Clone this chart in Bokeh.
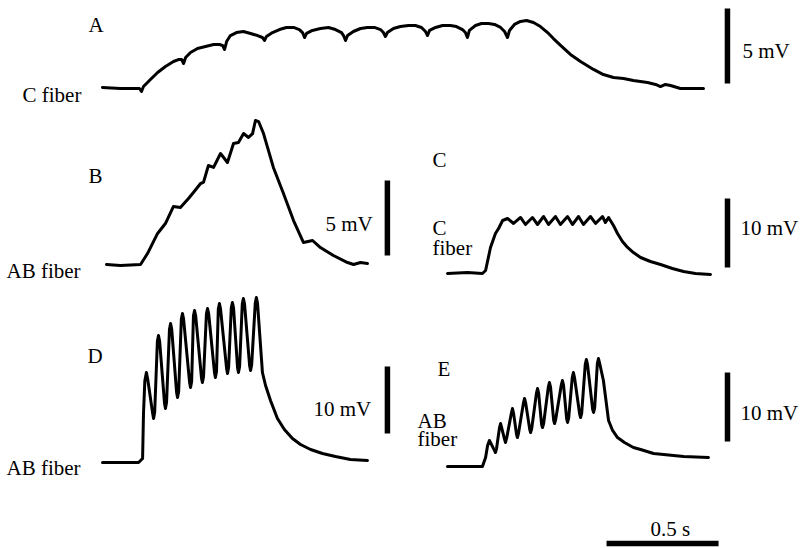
from bokeh.plotting import figure
from bokeh.models import Range1d
from bokeh.core.properties import value
from bokeh.embed import file_html
from bokeh.resources import INLINE

# ---------------- data (time in ms from trace start, membrane potential in mV above baseline) ----
a_t = [0, 80, 165, 174, 183, 214, 246, 281, 317, 339, 353, 362, 371, 393, 424, 460, 496, 522, 536,
       545, 554, 571, 598, 629, 661, 692, 714, 723, 732, 759, 790, 821, 853, 879, 893, 902, 911,
       937, 973, 1009, 1040, 1067, 1076, 1085, 1094, 1120, 1152, 1183, 1214, 1241, 1254, 1263,
       1272, 1299, 1330, 1366, 1397, 1424, 1442, 1451, 1460, 1487, 1518, 1553, 1580, 1607, 1620,
       1629, 1638, 1665, 1692, 1723, 1750, 1777, 1795, 1808, 1817, 1839, 1866, 1893, 1924, 1955,
       1987, 2013, 2045, 2089, 2134, 2192, 2236, 2281, 2326, 2370, 2433, 2469, 2491, 2513, 2536,
       2580, 2625, 2683]
a_v = [0.07, 0, 0, -0.2, 0.13, 0.6, 1.07, 1.47, 1.8, 1.93, 1.93, 1.67, 2.07, 2.4, 2.67, 2.8, 2.93,
       2.93, 2.87, 2.6, 3.13, 3.53, 3.73, 3.8, 3.67, 3.53, 3.4, 3.2, 3.47, 3.73, 3.93, 4.07, 4.07,
       3.93, 3.73, 3.4, 3.67, 3.87, 4.0, 4.07, 3.93, 3.73, 3.53, 3.2, 3.53, 3.8, 4.0, 4.07, 4.07,
       3.93, 3.73, 3.47, 3.73, 4.0, 4.13, 4.2, 4.2, 4.07, 3.8, 3.53, 3.87, 4.07, 4.2, 4.2, 4.13,
       3.93, 3.73, 3.4, 3.87, 4.2, 4.33, 4.33, 4.27, 4.07, 3.8, 3.4, 3.87, 4.27, 4.47, 4.53, 4.4,
       4.13, 3.73, 3.33, 2.87, 2.27, 1.8, 1.27, 0.93, 0.73, 0.67, 0.53, 0.4, 0.27, 0.13, 0.27, 0.2,
       0, 0, 0]

b_t = [0, 62, 152, 183, 228, 263, 299, 330, 366, 388, 420, 433, 455, 478, 509, 540, 567, 589, 612,
       634, 652, 665, 679, 701, 745, 790, 835, 879, 920, 955, 1013, 1076, 1103, 1134, 1165]
b_v = [0, -0.07, 0, 0.73, 2.07, 2.73, 3.87, 3.8, 4.4, 4.8, 5.4, 5.47, 6.6, 6.47, 7.4, 6.8, 8.07,
       8.13, 8.73, 8.47, 8.73, 9.6, 9.53, 8.73, 6.47, 4.73, 2.93, 1.47, 1.6, 1.13, 0.6, 0.13, 0,
       0.13, 0.07]

c_t = [0, 89, 156, 170, 192, 214, 228, 246, 268, 295, 326, 348, 379, 402, 429, 451, 482, 504, 536,
       558, 585, 607, 638, 661, 692, 705, 719, 741, 759, 781, 804, 830, 862, 906, 951, 1004, 1054,
       1107, 1174]
c_v = [0, 0.14, 0, 0.43, 3.77, 5.8, 6.52, 7.68, 7.97, 7.25, 8.12, 7.1, 8.12, 7.1, 8.26, 7.1, 8.26,
       7.1, 8.26, 7.1, 8.26, 7.1, 8.26, 7.25, 8.26, 7.39, 8.12, 6.96, 5.8, 4.64, 3.77, 3.04, 2.32,
       1.74, 1.3, 0.72, 0.29, 0, -0.14]

d_t = [0, 161, 179, 183, 189, 196, 202, 224, 228, 233, 245, 250, 255, 277, 281, 286, 299, 304, 309,
       331, 335, 340, 352, 357, 362, 389, 393, 398, 406, 411, 416, 442, 446, 451, 464, 469, 474,
       500, 504, 509, 517, 522, 527, 554, 558, 563, 575, 580, 585, 603, 607, 612, 624, 629, 634,
       657, 661, 666, 682, 687, 692, 714, 728, 750, 781, 812, 848, 884, 929, 982, 1040, 1107, 1183]
d_v = [0, 0, 0.6, 7.31, 12.2, 13.43, 12.4, 7.3, 6.57, 7.5, 18.1, 18.96, 18.1, 8.8, 8.06, 9.0, 19.9,
       20.75, 19.9, 10.4, 9.7, 10.6, 21.4, 22.24, 21.4, 11.9, 11.19, 12.1, 21.9, 22.69, 21.9, 12.6,
       11.94, 12.8, 22.2, 22.99, 22.2, 13.4, 12.69, 13.6, 22.9, 23.73, 22.9, 14.0, 13.28, 14.2, 23.1,
       23.88, 23.1, 14.1, 13.43, 14.3, 23.7, 24.48, 23.7, 14.4, 13.73, 14.6, 23.8, 24.63, 23.8,
       13.43, 11.49, 9.25, 6.57, 4.93, 3.58, 2.69, 1.94, 1.34, 0.9, 0.45, 0.3]

e_t = [0, 156, 170, 179, 187, 193, 210, 214, 219, 232, 237, 242, 255, 259, 264, 285, 290, 295, 308,
       312, 317, 339, 344, 349, 367, 371, 376, 397, 402, 407, 420, 424, 429, 450, 455, 460, 474,
       478, 483, 508, 513, 518, 532, 536, 541, 557, 562, 567, 590, 594, 599, 615, 620, 625, 648,
       652, 657, 669, 674, 679, 696, 719, 737, 759, 790, 830, 862, 920, 1054, 1165]
e_v = [0, 0, 1.3, 3.04, 3.77, 3.4, 2.3, 2.03, 2.6, 5.6, 6.23, 5.6, 3.9, 3.48, 4.1, 7.7, 8.41, 7.7,
       4.7, 4.2, 4.8, 9.2, 9.86, 9.2, 5.4, 4.93, 5.5, 10.6, 11.3, 10.6, 6.1, 5.65, 6.2, 11.5, 12.17,
       11.5, 6.7, 6.23, 6.8, 11.8, 12.46, 11.8, 6.9, 6.38, 7.0, 12.9, 13.62, 12.9, 7.6, 7.1, 7.7,
       14.8, 15.51, 14.8, 8.3, 7.83, 8.5, 14.9, 15.65, 15.0, 12.46, 6.67, 5.22, 4.2, 3.48, 2.75,
       2.46, 1.88, 1.45, 1.3]

panel_letters = ["A", "B", "C", "D", "E"]
fiber_labels = ["C fiber", "AB fiber", "C", "fiber", "AB fiber", "AB", "fiber"]
volt_bars_mv = [5, 5, 10, 10, 10]          # scale bar sizes (mV)
volt_bar_labels = ["5 mV", "5 mV", "10 mV", "10 mV", "10 mV"]
time_bar_ms = 500
time_bar_label = "0.5 s"

# ---------------- layout (page pixels) ----------------
W, H = 801, 548
X0, X1, Y0, Y1 = 0, W, 0, H
PX_PER_MS = 0.224
# panel: (x of t=0, y of v=0, px per mV)
panels = {
    "A": (102, 88, 15.0),
    "B": (106, 264, 15.0),
    "C": (447, 273, 6.9),
    "D": (102, 462, 6.7),
    "E": (447, 466, 6.9),
}
traces = {"A": (a_t, a_v), "B": (b_t, b_v), "C": (c_t, c_v), "D": (d_t, d_v), "E": (e_t, e_v)}
# scale bar placement: (t in ms, bottom in mV) in each panel's own units
bar_pos = {"A": (2790, 0.33), "B": (1254, 0.6), "C": (1250, 0.87), "D": (1272, 4.33), "E": (1250, 3.62)}
FONT = value("Liberation Serif")
FS = "21px"

p = figure(width=W, height=H, x_range=Range1d(X0, X1), y_range=Range1d(Y1, Y0),
           x_axis_type=None, y_axis_type=None, toolbar_location=None,
           output_backend="svg", min_border=0, outline_line_color=None,
           background_fill_color="white", border_fill_color="white")

xr, yr = {}, {}
for k, (px0, pyb, ppmv) in panels.items():
    xr[k] = Range1d((X0 - px0) / PX_PER_MS, (X1 - px0) / PX_PER_MS)
    yr[k] = Range1d((pyb - Y1) / ppmv, (pyb - Y0) / ppmv)
p.extra_x_ranges = xr
p.extra_y_ranges = yr

for i, k in enumerate(panel_letters):
    t, v = traces[k]
    p.line(t, v, x_range_name=k, y_range_name=k, line_color="black", line_width=3,
           line_join="round", line_cap="round")
    bt, bv = bar_pos[k]
    p.segment(x0=[bt], y0=[bv], x1=[bt], y1=[bv + volt_bars_mv[i]], x_range_name=k,
              y_range_name=k, line_color="black", line_width=5.5, line_cap="butt")

# time scale bar (uses panel E time scale)
TB_START = 710
p.segment(x0=[TB_START], y0=[543], x1=[TB_START + time_bar_ms], y1=[543], x_range_name="E",
          line_color="black", line_width=5.5, line_cap="butt")

# texts (page coordinates, baseline positions)
letter_xy = [(88, 24), (88, 175), (432, 159), (87, 355), (437, 368)]
fiber_xy = [(22, 94), (6, 270), (432, 227), (432, 247), (6, 467), (417, 420), (417, 438)]
volt_xy = [(742, 50), (325, 223), (740, 227), (313, 408), (740, 412)]
time_xy = (650, 528)

tx = [q[0] for q in letter_xy] + [q[0] for q in fiber_xy] + [q[0] for q in volt_xy] + [time_xy[0]]
ty = [q[1] for q in letter_xy] + [q[1] for q in fiber_xy] + [q[1] for q in volt_xy] + [time_xy[1]]
tt = panel_letters + fiber_labels + volt_bar_labels + [time_bar_label]
p.text(x=tx, y=ty, text=tt, text_font=FONT, text_font_size=FS, text_color="black",
       text_align="left", text_baseline="alphabetic")

open("out.html", "w").write(file_html(p, INLINE))
